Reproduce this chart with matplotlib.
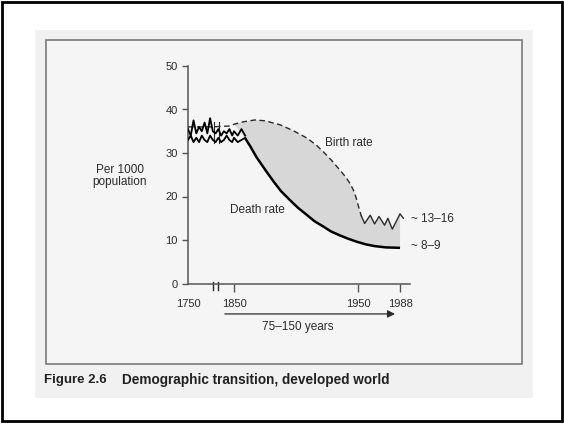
import numpy as np
import matplotlib.pyplot as plt
from matplotlib.patches import Rectangle

plt.rcParams['font.family'] = ['Liberation Sans', 'DejaVu Sans']

# --- data ---
noise_years = [1750, 1756, 1762, 1768, 1774, 1780, 1786, 1792, 1798, 1804, 1810,
               1816, 1822, 1828, 1834, 1840, 1846, 1850, 1853, 1856, 1859]
noise_high = [35.5, 34.0, 37.5, 34.5, 36.0, 35.0, 37.0, 34.5, 38.0, 35.0, 34.5,
              35.5, 34.0, 35.0, 34.5, 35.5, 34.0, 35.0, 34.0, 35.5, 34.0]
noise_low = [33.0, 34.0, 32.5, 33.5, 32.5, 34.0, 33.0, 32.5, 34.0, 33.0, 32.5,
             33.5, 32.5, 33.0, 34.0, 33.0, 32.5, 33.5, 32.5, 33.0, 33.5]

birth_years = [1750, 1800, 1840, 1850, 1858, 1867, 1875, 1887, 1898, 1909, 1916,
               1923, 1929, 1935, 1940, 1944, 1947, 1949, 1951, 1953]
birth_rate = [36.0, 36.0, 36.2, 36.6, 37.2, 37.6, 37.4, 36.5, 35.1, 33.4, 31.9,
              30.0, 28.2, 26.2, 24.5, 22.8, 21.0, 19.2, 17.2, 15.5]

zigzag_years = [1953, 1956, 1961, 1965, 1969, 1974, 1977, 1981, 1988, 1991]
zigzag_rate = [15.5, 13.8, 15.7, 13.7, 15.4, 13.4, 15.0, 12.5, 16.0, 15.0]

death_years = [1859, 1863, 1868, 1875, 1882, 1888, 1895, 1902, 1909, 1915, 1922,
               1928, 1935, 1942, 1949, 1957, 1965, 1975, 1988]
death_rate = [33.4, 31.6, 29.1, 26.2, 23.4, 21.2, 19.2, 17.3, 15.7, 14.3, 13.1,
              12.0, 11.1, 10.3, 9.6, 9.0, 8.6, 8.3, 8.2]

x_ticks = [1750, 1850, 1950, 1988]
y_ticks = [0, 10, 20, 30, 40, 50]

# broken time axis: 1750-1850 squeezed, 1850 onwards stretched
yr_knots = [1600, 1750, 1850, 1950, 1988, 2100]
pos_knots = [-69, 0, 46, 170, 212, 336]


def fwd(v):
    return np.interp(v, yr_knots, pos_knots)


def inv(v):
    return np.interp(v, pos_knots, yr_knots)


W, H = 564, 424


def px(x, y):
    return x / W, 1 - y / H


fig = plt.figure(figsize=(W / 100, H / 100), dpi=100)
fig.patch.set_facecolor('white')

# page scan, outer border and inner frame
x0, y0 = px(35, 398)
x1, y1 = px(533, 30)
fig.patches.append(Rectangle((x0, y0), x1 - x0, y1 - y0, transform=fig.transFigure,
                             facecolor='#f1f1f1', edgecolor='none', zorder=-3))
x0, y0 = px(46, 364)
x1, y1 = px(522, 40)
fig.patches.append(Rectangle((x0, y0), x1 - x0, y1 - y0, transform=fig.transFigure,
                             facecolor='#f5f5f5', edgecolor='#7a7a7a', lw=1.2, zorder=-2))
x0, y0 = px(2, 421)
x1, y1 = px(562, 2)
fig.patches.append(Rectangle((x0, y0), x1 - x0, y1 - y0, transform=fig.transFigure,
                             facecolor='none', edgecolor='black', lw=2.0, zorder=5))

left, bottom = px(188, 283.5)
right, top = px(410, 66)
ax = fig.add_axes([left, bottom, right - left, top - bottom])
ax.set_facecolor('none')
ax.set_xscale('function', functions=(fwd, inv))
ax.set_xlim(1750, 1997)
ax.set_ylim(0, 50)

ink = '#2b2b2b'
# shaded gap between birth and death rates
fx = birth_years[3:] + zigzag_years[1:-1] + death_years[::-1]
fy = birth_rate[3:] + zigzag_rate[1:-1] + death_rate[::-1]
ax.fill(fx, fy, color='#d7d7d7', lw=0, zorder=1)

ax.plot(birth_years, birth_rate, ls=(0, (4, 2.5)), color=ink, lw=1.0, zorder=3)
ax.plot(zigzag_years, zigzag_rate, color=ink, lw=1.0, zorder=3)
ax.plot(noise_years, noise_high, color='black', lw=1.3, zorder=3)
ax.plot(noise_years, noise_low, color='black', lw=1.3, zorder=3)
ax.plot(death_years, death_rate, color='black', lw=1.8, zorder=3,
        solid_capstyle='butt')

# axis break marks
for yb in (1804.3, 1815.2):
    ax.plot([yb, yb], [0.4, -1.6], color=ink, lw=1.0, clip_on=False)
    ax.plot([yb + 2, yb + 2], [32.3, 37.2], color=ink, lw=0.8, clip_on=False)

for s in ('top', 'right'):
    ax.spines[s].set_visible(False)
for s in ('left', 'bottom'):
    ax.spines[s].set_color('#555555')
    ax.spines[s].set_linewidth(1.1)

ax.set_xticks(x_ticks)
ax.set_xticklabels([str(t) for t in x_ticks])
ax.set_yticks(y_ticks)
ax.tick_params(axis='x', direction='out', length=6, width=1.0, pad=5,
               labelsize=8, colors='#555555', labelcolor=ink)
ax.tick_params(axis='y', direction='out', length=4.5, width=1.0, pad=3,
               labelsize=8, colors='#555555', labelcolor=ink)
ax.xaxis.get_major_ticks()[0].tick1line.set_visible(False)
ax.xaxis.set_minor_locator(plt.NullLocator())

ax.text(1923, 32.3, 'Birth rate', fontsize=8.5, color=ink, va='center', ha='left')
ax.text(1841, 16.9, 'Death rate', fontsize=8.5, color=ink, va='center', ha='left')
ax.text(1998, 14.8, '~ 13\u201316', fontsize=8.5, color=ink, va='center', ha='left')
ax.text(1998, 8.6, '~ 8\u20139', fontsize=8.5, color=ink, va='center', ha='left')

ax.annotate('', xy=(1986, -7.0), xytext=(1824, -7.0), annotation_clip=False,
            arrowprops=dict(arrowstyle='-|>', lw=0.9, color=ink, mutation_scale=11))
ax.text(1901.6, -10.0, '75\u2013150 years', fontsize=8.5, color=ink,
        ha='center', va='center', clip_on=False)

tx, ty = px(120, 176)
fig.text(tx, ty, 'Per 1000\npopulation', fontsize=8.5, color=ink,
         ha='center', va='center', linespacing=1.1)

tx, ty = px(44, 380)
fig.text(tx, ty, 'Figure 2.6', fontsize=9.5, fontweight='bold', color='#222222',
         ha='left', va='center')
tx, ty = px(122, 380)
fig.text(tx, ty, 'Demographic transition, developed world', fontsize=9.8,
         fontweight='bold', color='#222222', ha='left', va='center')

fig.savefig('out.png', dpi=100)
